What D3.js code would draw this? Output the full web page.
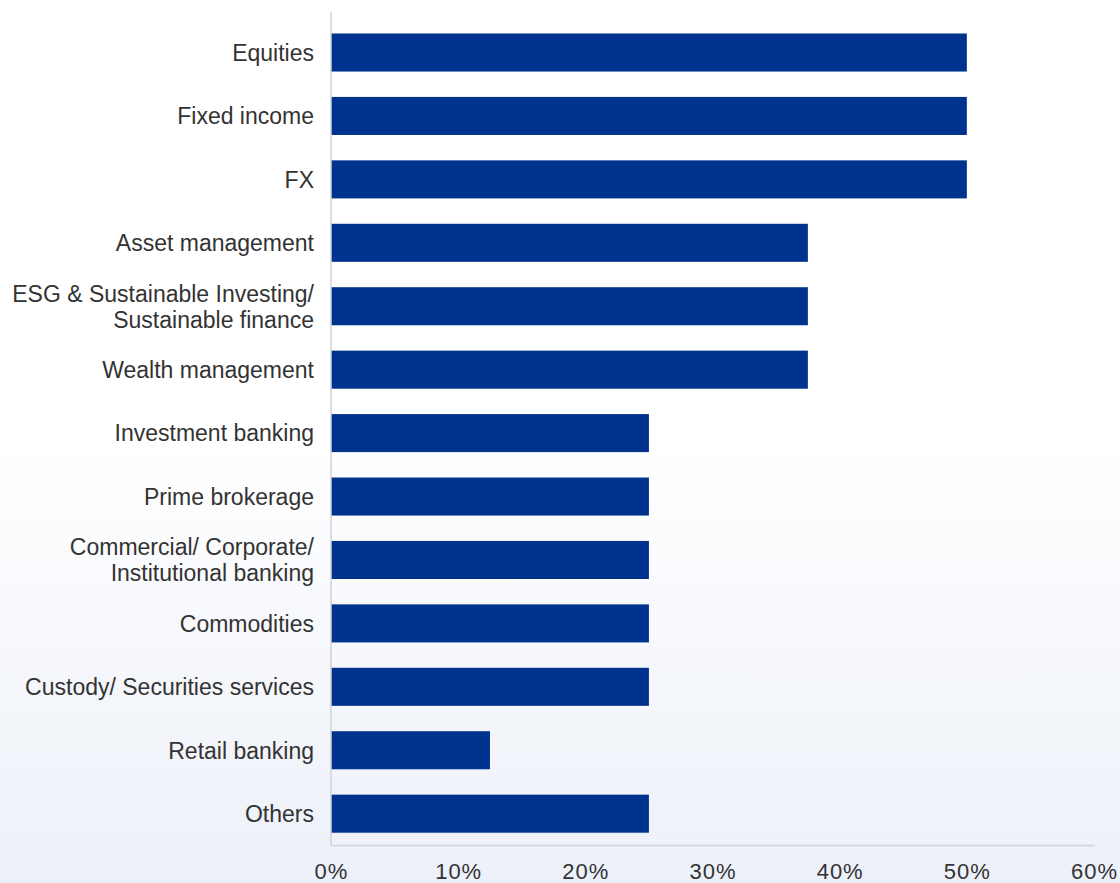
<!DOCTYPE html>
<html>
<head>
<meta charset="utf-8">
<script src="https://cdn.jsdelivr.net/npm/d3@7"></script>
<style>
  html, body { margin: 0; padding: 0; background: #fff; }
  svg { display: block; }
</style>
</head>
<body>
<svg id="chart" width="1120" height="883"></svg>
<script>
// Business areas (top to bottom) and share of respondents
const categories = [
  "Equities",
  "Fixed income",
  "FX",
  "Asset management",
  "ESG & Sustainable Investing/\nSustainable finance",
  "Wealth management",
  "Investment banking",
  "Prime brokerage",
  "Commercial/ Corporate/\nInstitutional banking",
  "Commodities",
  "Custody/ Securities services",
  "Retail banking",
  "Others"
];
const values = [0.50, 0.50, 0.50, 0.375, 0.375, 0.375, 0.25, 0.25, 0.25, 0.25, 0.25, 0.125, 0.25];
const tickValues = [0, 0.1, 0.2, 0.3, 0.4, 0.5, 0.6];

const W = 1120, H = 883;
const plotLeft = 331, plotRight = 1094, plotTop = 20.8, plotBottom = 845.4;

const svg = d3.select("#chart");

// soft blue wash towards the bottom of the panel
const defs = svg.append("defs");
const grad = defs.append("linearGradient")
  .attr("id", "bg").attr("x1", 0).attr("y1", 0).attr("x2", 0).attr("y2", 1);
grad.append("stop").attr("offset", "0").attr("stop-color", "#ffffff");
grad.append("stop").attr("offset", "0.5").attr("stop-color", "#ffffff");
grad.append("stop").attr("offset", "1").attr("stop-color", "#ecf0f8");
svg.append("rect").attr("width", W).attr("height", H).attr("fill", "url(#bg)");

const x = d3.scaleLinear().domain([0, 0.6]).range([plotLeft, plotRight]);
const y = d3.scaleBand().domain(categories).range([plotTop, plotBottom])
  .paddingInner(0.4).paddingOuter(0.2);

// bars
svg.append("g").selectAll("rect")
  .data(categories)
  .join("rect")
  .attr("x", x(0))
  .attr("y", d => y(d))
  .attr("width", (d, i) => x(values[i]) - x(0))
  .attr("height", y.bandwidth())
  .attr("fill", "#00338d");

// axis lines
svg.append("line")
  .attr("x1", plotLeft).attr("x2", plotLeft).attr("y1", 12).attr("y2", plotBottom)
  .attr("stroke", "#cfd2d6").attr("stroke-width", 1.5);
svg.append("line")
  .attr("x1", plotLeft).attr("x2", plotRight + 1).attr("y1", plotBottom).attr("y2", plotBottom)
  .attr("stroke", "#cfd2d6").attr("stroke-width", 1.5);

// category labels (multi-line where needed)
const font = "'Liberation Sans', Arial, sans-serif";
const labels = svg.append("g")
  .attr("font-family", font).attr("font-size", 23).attr("fill", "#333")
  .attr("text-anchor", "end");
categories.forEach(c => {
  const lines = c.split("\n");
  const cy = y(c) + y.bandwidth() / 2;
  const lh = 26;
  const t = labels.append("text").attr("x", plotLeft - 17);
  lines.forEach((ln, k) => {
    t.append("tspan")
      .attr("x", plotLeft - 17)
      .attr("y", cy + (k - (lines.length - 1) / 2) * lh)
      .attr("dy", "0.36em")
      .text(ln);
  });
});

// x tick labels
const xAxis = d3.axisBottom(x).tickValues(tickValues)
  .tickFormat(d3.format(".0%")).tickSize(0).tickPadding(0);
const gx = svg.append("g")
  .attr("transform", `translate(0,${plotBottom + 18})`)
  .call(xAxis);
gx.select(".domain").remove();
gx.selectAll("text")
  .attr("font-family", font).attr("font-size", 22).attr("fill", "#333")
  .attr("letter-spacing", "1px");
</script>
</body>
</html>
